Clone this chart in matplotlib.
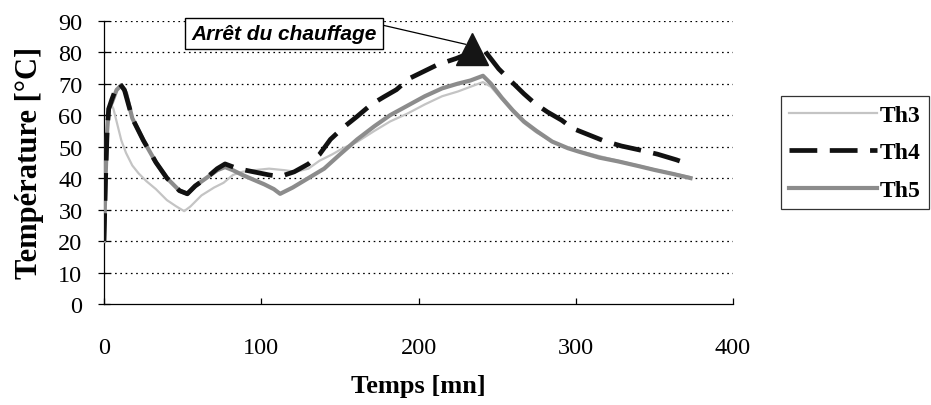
import matplotlib
matplotlib.use("Agg")
import matplotlib.pyplot as plt

plt.rcParams['lines.scale_dashes'] = False

# ---- data ----
th3_t = [0, 1, 2, 3, 4, 6, 8, 11, 14, 18, 22, 27, 33, 40, 46, 51, 55, 62, 70, 76, 82, 88, 95, 105,
         115, 122, 130, 137, 145, 152, 161, 172, 182, 193, 204, 215, 225, 233, 241, 246, 253, 260,
         267, 275, 285, 295, 302, 315, 327, 340, 350, 362, 373]
th3_v = [20, 45, 57, 62, 64, 62, 58, 52, 48, 44, 41.5, 39, 36.5, 33, 31, 29.5, 31, 34.5, 37, 38.5,
         41, 42, 42.5, 43, 42.5, 42, 43, 45.5, 47.5, 49.5, 51.5, 55, 58, 60.5, 63.4, 66, 67.5, 69,
         70.5, 69, 65, 61, 57.5, 54.5, 51.5, 49.5, 48.6, 47, 45.5, 44, 42.8, 41.5, 40.3]

th4_t = [0, 1, 2, 3, 5, 8, 10, 13, 18, 25, 33, 40, 48, 53, 58, 65, 72, 77, 85, 95, 105, 112, 121,
         130, 137, 144, 152, 161, 170, 178, 186, 194, 203, 212, 224, 234, 242, 251, 259, 267, 274,
         282, 291, 298, 308, 318, 329, 340, 352, 364, 373]
th4_v = [20, 40, 55, 62, 65, 69, 70, 68, 59, 52, 45, 40, 36, 35, 37.5, 40, 43, 44.5, 43, 42, 41,
         40.5, 42, 44.5, 47.5, 52.3, 56, 59.6, 63.4, 65.8, 68.1, 71.6, 73.8, 76, 78, 80, 80.5, 74.7,
         70.7, 66.8, 63.7, 61, 58.4, 55.8, 53.8, 51.8, 50.2, 49, 47.6, 45.8, 44.2]

th5_t = [0, 1, 2, 3, 5, 8, 11, 14, 18, 25, 33, 40, 48, 53, 58, 65, 72, 77, 82, 88, 95, 102, 108,
         112, 116, 120, 130, 140, 150, 161, 172, 182, 193, 204, 215, 225, 233, 241, 246, 253, 260,
         267, 275, 285, 295, 302, 315, 327, 340, 350, 362, 373]
th5_v = [20, 40, 55, 62, 64, 68, 69.5, 67, 59, 52, 45, 40, 36, 35, 37.5, 40, 42.5, 43.5, 42.5, 41,
         39.5, 38, 36.5, 35, 36, 37, 40, 43, 47.5, 52.3, 56.5, 60, 63, 66, 68.5, 70, 71, 72.5, 70,
         65.5, 61.5, 58, 55, 51.6, 49.5, 48.4, 46.5, 45.3, 43.8, 42.6, 41.3, 40]

x_ticks = [0, 100, 200, 300, 400]
y_ticks = [0, 10, 20, 30, 40, 50, 60, 70, 80, 90]
stop_t, stop_v = 234, 81
annot_text = "Arrêt du chauffage"

# ---- figure ----
fig = plt.figure(figsize=(9.31, 4.06), dpi=100)
ax = fig.add_axes([104/931, 1 - 305/406, (733-104)/931, (305-21.7)/406])

serif = ['Liberation Serif', 'DejaVu Serif']

for y in y_ticks[1:]:
    ax.axhline(y, color='black', lw=0.9, ls=(0, (1.2, 2.6)), zorder=1)

l3, = ax.plot(th3_t, th3_v, color='#c4c4c4', lw=1.6, zorder=3, label='Th3')
l5, = ax.plot(th5_t, th5_v, color='#8c8c8c', lw=3.0, zorder=4, label='Th5')
l4, = ax.plot(th4_t, th4_v, color='#111111', lw=3.4, dashes=(20, 9), zorder=5, label='Th4')

ax.plot([stop_t], [stop_v], marker='^', ms=23, color='#151515', zorder=6, ls='none')

ax.annotate(annot_text, xy=(stop_t - 4, stop_v + 1.5), xytext=(114.5, 86),
            ha='center', va='center', fontsize=15, fontweight='bold', fontstyle='italic',
            family=['Liberation Sans', 'DejaVu Sans'],
            bbox=dict(boxstyle='square,pad=0.3', fc='white', ec='black', lw=1.0),
            arrowprops=dict(arrowstyle='-', color='black', lw=0.9,
                            shrinkA=0, shrinkB=0, relpos=(1.0, 1.0)),
            annotation_clip=False, zorder=7)

ax.set_xlim(0, 400)
ax.set_ylim(0, 90)
ax.set_xticks(x_ticks)
ax.set_yticks(y_ticks)
for s in ['top', 'right']:
    ax.spines[s].set_visible(False)
ax.spines['left'].set_linewidth(0.9)
ax.spines['bottom'].set_linewidth(0.9)
ax.tick_params(axis='y', direction='inout', length=9, width=0.9, pad=11)
ax.tick_params(axis='x', direction='in', length=4, width=0.9, pad=24)
for lab in ax.get_xticklabels() + ax.get_yticklabels():
    lab.set_family(serif)
    lab.set_fontsize(17.5)

ax.set_xlabel('Temps [mn]', fontsize=19, fontweight='bold', family=serif, labelpad=11)
ax.set_ylabel('Température [°C]', fontsize=22, fontweight='bold', family=serif, labelpad=10)

leg = fig.legend(handles=[l3, l4, l5], labels=['Th3', 'Th4', 'Th5'],
                 loc='upper left', bbox_to_anchor=(781/931, 1 - 97/406),
                 frameon=True, fancybox=False, shadow=False, borderaxespad=0,
                 prop={'family': serif, 'weight': 'bold', 'size': 17},
                 handlelength=3.7, handletextpad=0.15, labelspacing=0.68,
                 borderpad=0.35)
leg.get_frame().set_edgecolor('black')
leg.get_frame().set_linewidth(0.9)

fig.savefig('out.png', dpi=100)
